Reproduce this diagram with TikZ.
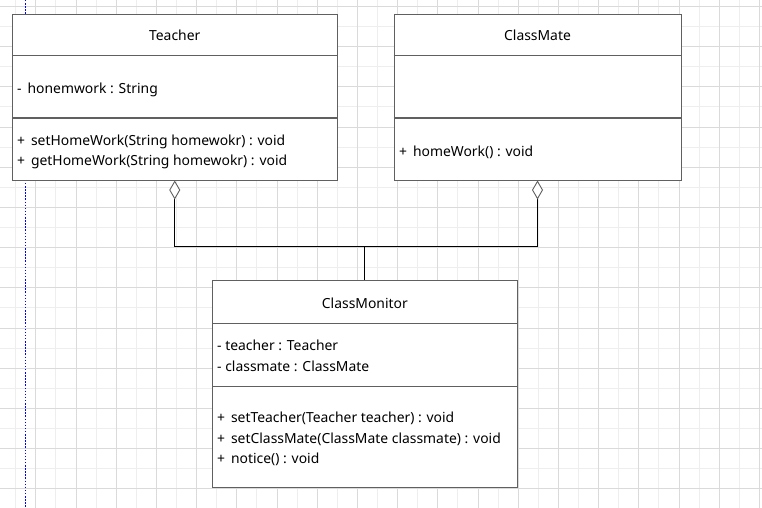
\documentclass[tikz,border=0pt]{standalone}
\usepackage{fontspec}
\setmainfont{Noto Sans}
\usepackage{tikz}
\usetikzlibrary{arrows.meta, positioning}

\definecolor{gridminor}{HTML}{EEEEEE}
\definecolor{gridmajor}{HTML}{DADADA}
\definecolor{boxline}{HTML}{606060}

\begin{document}
\begin{tikzpicture}[
    x=1pt, y=-1pt,
    classbox/.style={
      draw=boxline,
      line width=1pt,
      fill=white,
      inner sep=0pt
    },
    classname/.style={anchor=base, inner sep=0pt, font=\fontsize{13.9}{20}\selectfont},
    member/.style={anchor=base west, inner sep=0pt, font=\fontsize{13.9}{20}\selectfont},
    divider/.style={draw=boxline, line width=1pt},
    aggline/.style={draw=black, line width=0.9pt},
    agg/.style={aggline, {Diamond[length=19pt, width=11pt, fill=white, color=boxline, line width=0.9pt]}-}
  ]
    \useasboundingbox (0,0) rectangle (762,508);
    \fill[white] (0,0) rectangle (762,508);
    \foreach \i in {0,2,...,36} \draw[gridminor, line width=0.8pt] (15.6+20.1*\i,0) -- (15.6+20.1*\i,508);
    \foreach \j in {1,3,...,25} \draw[gridminor, line width=0.8pt] (0,6.3+20.1*\j) -- (762,6.3+20.1*\j);
    \foreach \i in {1,3,...,37} \draw[gridmajor, line width=0.8pt] (15.6+20.1*\i,0) -- (15.6+20.1*\i,508);
    \foreach \j in {0,2,...,24} \draw[gridmajor, line width=0.8pt] (0,6.3+20.1*\j) -- (762,6.3+20.1*\j);
    \draw[blue, line width=1pt, dash pattern=on 1.5pt off 1.6pt] (25.3,0) -- (25.3,508);

    \node[classbox, minimum width=324.5, minimum height=165.5] (teacher) at (174.75,97.25) {};
    \draw[divider] (teacher.west |- 0,56) -- (teacher.east |- 0,56);
    \draw[divider] (teacher.west |- 0,118) -- (teacher.east |- 0,118);
    \node[classname] (teachername) at (174.75,41) {Teacher};
    \node[member] (teacherattr) at (17,93.3) {- \,honemwork : String};
    \node[member] (teacherop1) at (17,145.5) {+ \,setHomeWork(String homewokr) : void};
    \node[member] (teacherop2) at (17,165.7) {+ \,getHomeWork(String homewokr) : void};

    \node[classbox, minimum width=287, minimum height=165.5] (classmate) at (537.5,97.25) {};
    \draw[divider] (classmate.west |- 0,56) -- (classmate.east |- 0,56);
    \draw[divider] (classmate.west |- 0,118) -- (classmate.east |- 0,118);
    \node[classname] (classmatename) at (537.5,41) {ClassMate};
    \node[member] (classmateop) at (399,156) {+ \,homeWork() : void};

    \node[classbox, minimum width=304.3, minimum height=207] (monitor) at (364.85,384.2) {};
    \draw[divider] (monitor.west |- 0,323.3) -- (monitor.east |- 0,323.3);
    \draw[divider] (monitor.west |- 0,386) -- (monitor.east |- 0,386);
    \node[classname] (monitorname) at (364.85,308.3) {ClassMonitor};
    \node[member] (monitorattr1) at (217,350) {- teacher : Teacher};
    \node[member] (monitorattr2) at (217,371) {- classmate : ClassMate};
    \node[member] (monitorop1) at (217,422.7) {+ \,setTeacher(Teacher teacher) : void};
    \node[member] (monitorop2) at (217,443.3) {+ \,setClassMate(ClassMate classmate) : void};
    \node[member] (monitorop3) at (217,463.3) {+ \,notice() : void};

    \coordinate (join) at (monitor.north |- 0,246);
    \draw[agg] (teacher.south) |- (join);
    \draw[agg] (classmate.south) |- (join);
    \draw[aggline] (join) -- (monitor.north);
  \end{tikzpicture}
\end{document}
